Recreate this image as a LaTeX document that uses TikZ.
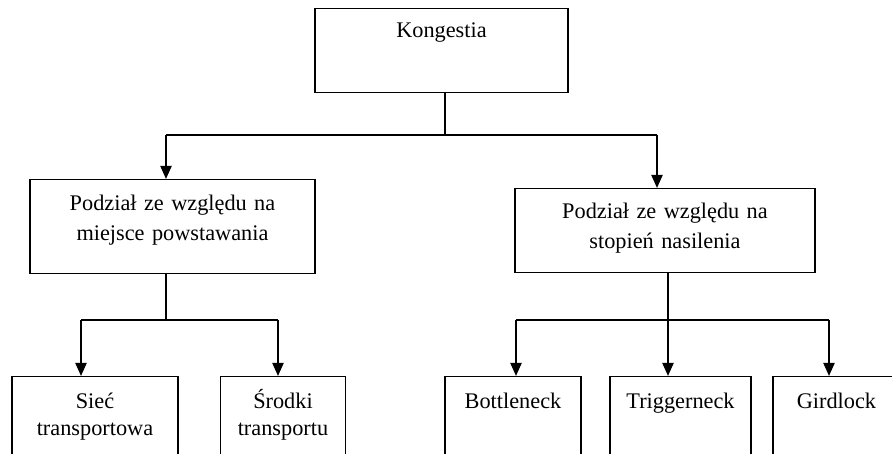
\documentclass[tikz,border=0pt]{standalone}
\usepackage{fontspec}
\setmainfont{Liberation Serif}
\usetikzlibrary{arrows.meta}
\tikzset{
  box/.style={draw, line width=1.2pt, inner xsep=0pt, inner ysep=0pt, align=center, anchor=north,
    font={\fontsize{22.3pt}{30pt}\selectfont}},
  lowbox/.style={box, font={\fontsize{22.3pt}{27pt}\selectfont}, text height=32pt, text depth=100pt},
  link/.style={line width=1.2pt},
  arr/.style={line width=2pt, -{Triangle[width=11pt,length=13pt]}}
}
\begin{document}
\begin{tikzpicture}[x=1pt,y=-1pt]
\useasboundingbox (0,0) rectangle (892,454);
\clip (0,0) rectangle (892,454);
\node[box, text width=253pt, text height=29pt, text depth=55pt] (top) at (441.5,8) {Kongestia};
\node[box, text width=285pt, text height=31pt, text depth=63pt] (L) at (172.5,179) {Podział ze względu na\\miejsce powstawania};
\node[box, text width=300pt, text height=30pt, text depth=54pt] (R) at (665,188) {Podział ze względu na\\stopień nasilenia};
\node[lowbox, text width=166pt] (LL1) at (95,376) {Sieć\\transportowa};
\node[lowbox, text width=125pt] (LL2) at (283,376) {Środki\\transportu};
\node[lowbox, text width=136pt] (RR1) at (513,376) {Bottleneck};
\node[lowbox, text width=141pt] (RR2) at (680.5,376) {Triggerneck};
\node[lowbox, text width=127pt] (RR3) at (836.5,376) {Girdlock};
% first tier
\coordinate (j0) at (445,135);
\coordinate (jL) at (166,135);
\coordinate (jR) at (657,135);
\draw[link] (top.south -| j0) -- (j0);
\draw[link] (jL) -- (jR);
\draw[arr] (jL) -- (jL |- L.north);
\draw[arr] (jR) -- (jR |- R.north);
% second tier left
\coordinate (k0) at (166,320);
\coordinate (kL1) at (81,320);
\coordinate (kL2) at (278,320);
\draw[link] (L.south -| k0) -- (k0);
\draw[link] (kL1) -- (kL2);
\draw[arr] (kL1) -- (kL1 |- LL1.north);
\draw[arr] (kL2) -- (kL2 |- LL2.north);
% second tier right
\coordinate (m0) at (668,320);
\coordinate (mR1) at (516,320);
\coordinate (mR3) at (829,320);
\draw[link] (R.south -| m0) -- (m0);
\draw[link] (mR1) -- (mR3);
\draw[arr] (mR1) -- (mR1 |- RR1.north);
\draw[arr] (m0) -- (m0 |- RR2.north);
\draw[arr] (mR3) -- (mR3 |- RR3.north);
\end{tikzpicture}
\end{document}
